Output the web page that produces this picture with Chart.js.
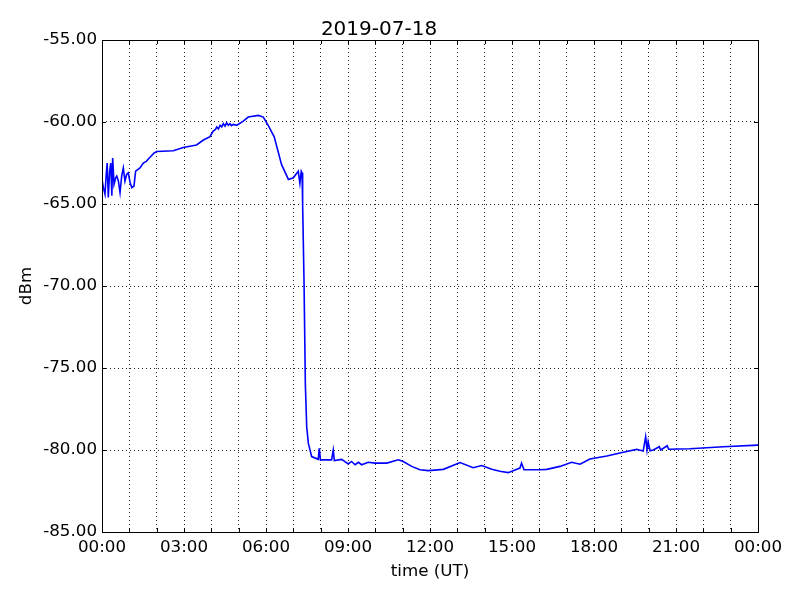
<!DOCTYPE html>
<html>
<head>
<meta charset="utf-8">
<title>2019-07-18</title>
<script src="https://cdn.jsdelivr.net/npm/chart.js@4.4.1/dist/chart.umd.min.js"></script>
<style>
  html, body { margin: 0; padding: 0; background: #fff; }
  #grafico { display: block; }
</style>
</head>
<body>
<canvas id="grafico" width="800" height="600"></canvas>
<script>
// --- Datos ---

// Hora del día (UT) en horas decimales
const horas = [
  0.00, 0.05, 0.11, 0.15, 0.19, 0.23, 0.28, 0.32, 0.36, 0.39, 0.44, 0.50, 0.54, 0.60, 0.66,
  0.72, 0.78, 0.84, 0.90, 0.96, 1.03, 1.09, 1.17, 1.23, 1.39, 1.51, 1.62, 1.73, 1.90, 2.00,
  2.61, 2.97, 3.46, 3.71, 3.95, 4.07, 4.15, 4.20, 4.26, 4.32, 4.38, 4.44, 4.50, 4.56, 4.62,
  4.68, 4.74, 4.80, 4.93, 5.17, 5.35, 5.72, 5.90, 6.08, 6.30, 6.57, 6.82, 7.00, 7.18, 7.24,
  7.29, 7.32, 7.34, 7.39, 7.44, 7.49, 7.55, 7.67, 7.91, 7.95, 7.99, 8.40, 8.46, 8.50, 8.77,
  9.01, 9.13, 9.26, 9.38, 9.50, 9.74, 9.99, 10.42, 10.84, 11.02, 11.33, 11.63, 11.94, 12.49,
  13.10, 13.58, 13.89, 14.26, 14.56, 14.86, 15.29, 15.35, 15.44, 16.02, 16.27, 16.76, 17.18,
  17.49, 17.85, 18.47, 19.07, 19.56, 19.80, 19.89, 19.94, 19.98, 20.05, 20.17, 20.39, 20.44,
  20.68, 20.73, 21.51, 22.73, 24.00
];

// Potencia recibida en dBm
const potencia = [
  -63.5, -64.0, -64.4, -63.3, -62.5, -64.6, -63.0, -62.5, -64.5, -62.2, -63.8, -63.4, -63.3, -63.6, -64.3,
  -63.3, -62.8, -63.6, -63.2, -63.1, -63.7, -64.0, -63.9, -63.0, -62.8, -62.5, -62.4, -62.2, -61.9, -61.8,
  -61.75, -61.55, -61.4, -61.1, -60.9, -60.55, -60.45, -60.3, -60.42, -60.2, -60.3, -60.1, -60.25, -60.05, -60.2,
  -60.1, -60.22, -60.15, -60.2, -59.95, -59.7, -59.6, -59.7, -60.2, -60.9, -62.6, -63.5, -63.4, -63.0, -63.75,
  -63.0, -63.1, -65.0, -69.6, -76.0, -78.6, -79.6, -80.4, -80.57, -79.9, -80.6, -80.6, -80.0, -80.65, -80.57,
  -80.85, -80.7, -80.9, -80.75, -80.9, -80.75, -80.8, -80.8, -80.6, -80.7, -81.0, -81.2, -81.26, -81.18,
  -80.77, -81.08, -80.95, -81.18, -81.3, -81.38, -81.1, -80.8, -81.2, -81.2, -81.18, -81.0, -80.75,
  -80.87, -80.55, -80.37, -80.14, -79.96, -80.06, -79.19, -80.0, -79.5, -80.05, -80.0, -79.8, -80.0,
  -79.74, -79.95, -79.92, -79.8, -79.7
];

// Ejes
const yTicks = [-85, -80, -75, -70, -65, -60, -55];
const horasEtiqueta = [0, 3, 6, 9, 12, 15, 18, 21, 24];

const puntos = horas.map((h, i) => ({ x: h, y: potencia[i] }));

// --- Marco y marcas hacia dentro (estilo matplotlib) ---
const marcoPlugin = {
  id: "marco",
  afterDraw(chart) {
    const { ctx, chartArea: a, scales } = chart;
    ctx.save();
    ctx.strokeStyle = "#000";
    ctx.lineWidth = 1;
    const largo = 4;
    ctx.beginPath();
    for (let h = 0; h <= 24; h++) {
      const px = Math.round(scales.x.getPixelForValue(h)) + 0.5;
      ctx.moveTo(px, a.bottom); ctx.lineTo(px, a.bottom - largo);
      ctx.moveTo(px, a.top); ctx.lineTo(px, a.top + largo);
    }
    yTicks.forEach(v => {
      const py = Math.round(scales.y.getPixelForValue(v)) + 0.5;
      ctx.moveTo(a.left, py); ctx.lineTo(a.left + largo, py);
      ctx.moveTo(a.right, py); ctx.lineTo(a.right - largo, py);
    });
    ctx.stroke();
    ctx.strokeRect(Math.round(a.left) + 0.5, Math.round(a.top) + 0.5,
      Math.round(a.right - a.left), Math.round(a.bottom - a.top));
    ctx.restore();
  }
};

const fuente = "'DejaVu Sans', sans-serif";
const rejilla = {
  color: "rgba(0,0,0,0.85)",
  lineWidth: 1,
  drawTicks: false
};

new Chart(document.getElementById("grafico"), {
  type: "line",
  data: {
    datasets: [{
      data: puntos,
      borderColor: "#0000ff",
      borderWidth: 1.6,
      pointRadius: 0,
      tension: 0,
      fill: false
    }]
  },
  options: {
    responsive: false,
    animation: false,
    layout: { padding: { left: 0, right: 42, top: 0, bottom: 0 } },
    plugins: {
      legend: { display: false },
      tooltip: { enabled: false },
      title: {
        display: true,
        text: "2019-07-18",
        color: "#000",
        font: { family: fuente, size: 20, weight: "normal", lineHeight: 1.05 },
        padding: { top: 19, bottom: 0 }
      }
    },
    scales: {
      x: {
        type: "linear",
        min: 0,
        max: 24,
        afterFit: s => { s.height = 68; },
        afterBuildTicks: s => { s.ticks = Array.from({ length: 25 }, (_, h) => ({ value: h })); },
        grid: { ...rejilla },
        border: { display: false, dash: [1, 3] },
        ticks: {
          autoSkip: false,
          maxRotation: 0,
          padding: 6,
          color: "#000",
          font: { family: fuente, size: 16.7 },
          callback: v => horasEtiqueta.includes(v) ? String(v % 24).padStart(2, "0") + ":00" : ""
        },
        title: {
          display: true,
          text: "time (UT)",
          color: "#000",
          font: { family: fuente, size: 16.7 },
          padding: { top: 0, bottom: 18 }
        }
      },
      y: {
        min: -85,
        max: -55,
        afterFit: s => { s.width = 102; },
        afterBuildTicks: s => { s.ticks = yTicks.map(v => ({ value: v })); },
        grid: { ...rejilla },
        border: { display: false, dash: [1, 3] },
        ticks: {
          padding: 5,
          color: "#000",
          font: { family: fuente, size: 16.7 },
          callback: v => v.toFixed(2)
        },
        title: {
          display: true,
          text: "dBm",
          color: "#000",
          font: { family: fuente, size: 16.7 },
          padding: { top: 17, bottom: 0 }
        }
      }
    }
  },
  plugins: [marcoPlugin]
});
</script>
</body>
</html>
